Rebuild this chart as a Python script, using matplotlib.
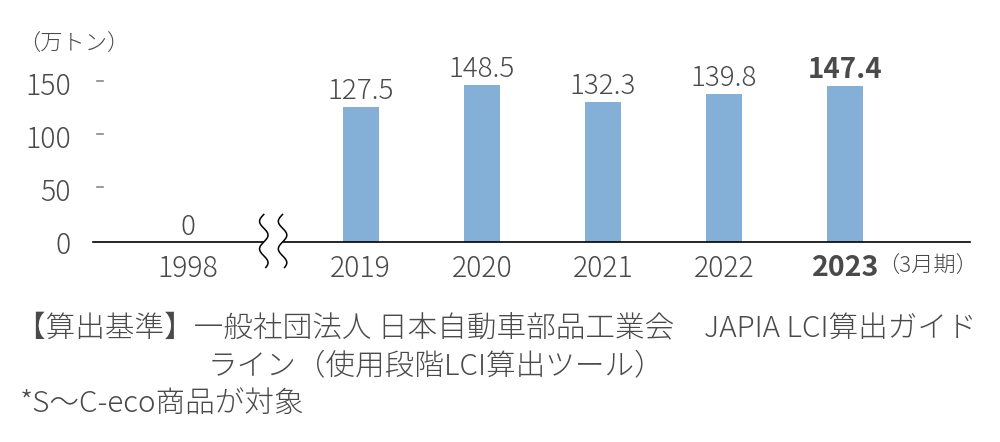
import numpy as np
import matplotlib.pyplot as plt

plt.rcParams['font.family'] = ['Noto Sans CJK JP', 'DejaVu Sans']

# データ
years = ['1998', '2019', '2020', '2021', '2022', '2023']
values = [0, 127.5, 148.5, 132.3, 139.8, 147.4]
value_labels = ['0', '127.5', '148.5', '132.3', '139.8', '147.4']
yticks = [0, 50, 100, 150]

bar_color = '#84b0d8'
text_color = '#4a4a4a'

fig = plt.figure(figsize=(10, 4.42), dpi=100)
ax = fig.add_axes([0.093, 1 - 242 / 442, 0.877, 182 / 442])

# 1998 は省略線の左側に離して置く
x = np.array([-1.43, 0, 1, 2, 3, 4])
ax.bar(x[1:], values[1:], width=0.30, color=bar_color)

ax.set_xlim(-2.21, 5.03)
ax.set_ylim(0, 171.7)

for i in range(len(years)):
    bold = (i == len(years) - 1)
    ax.annotate(value_labels[i], xy=(x[i], values[i]), xytext=(0, 1),
                textcoords='offset points', ha='center', va='bottom',
                fontsize=20, color=text_color,
                fontweight='bold' if bold else 'light')
    ax.text(x[i], -11, years[i], ha='center', va='top', fontsize=20.5,
            color=text_color, fontweight='bold' if bold else 'light')
ax.text(x[-1] + 0.26, -13, '（3月期）', ha='left', va='top', fontsize=16,
        color=text_color, fontweight='light')

# 軸
for s in ax.spines.values():
    s.set_visible(False)
ax.set_xticks([])
ax.set_yticks(yticks)
ax.set_yticklabels([str(v) for v in yticks], fontsize=20.5, color=text_color,
                   fontweight='light')
ax.tick_params(axis='y', length=0, pad=16)
for v in yticks[1:]:
    ax.plot([-2.175, -2.13], [v + 1.5, v + 1.5], color='#888888', lw=1.2,
            clip_on=False)

# 横軸（省略記号の間は空ける）
ax.plot([-2.21, -0.81], [0, 0], color='black', lw=1.2, clip_on=False)
ax.plot([-0.63, 5.03], [0, 0], color='black', lw=1.2, clip_on=False)
t = np.linspace(-24, 26, 100)
for cx in [-0.80, -0.645]:
    ax.plot(cx + 0.035 * np.sin(t / 26 * 2 * np.pi), t, color='black',
            lw=1.1, clip_on=False)

fig.text(0.018, 1 - 45 / 442, '（万トン）', fontsize=16, color=text_color,
         va='center', ha='left', fontweight='light')

foot = dict(fontsize=21.3, color=text_color, va='center', ha='left',
            fontweight='light')
fig.text(0.016, 1 - 328 / 442,
         '【算出基準】一般社団法人 日本自動車部品工業会　JAPIA LCI算出ガイド',
         **foot)
fig.text(0.208, 1 - 366 / 442, 'ライン（使用段階LCI算出ツール）', **foot)
fig.text(0.02, 1 - 404 / 442, '*S〜C-eco商品が対象', **foot)

fig.savefig('out.png', dpi=100)
